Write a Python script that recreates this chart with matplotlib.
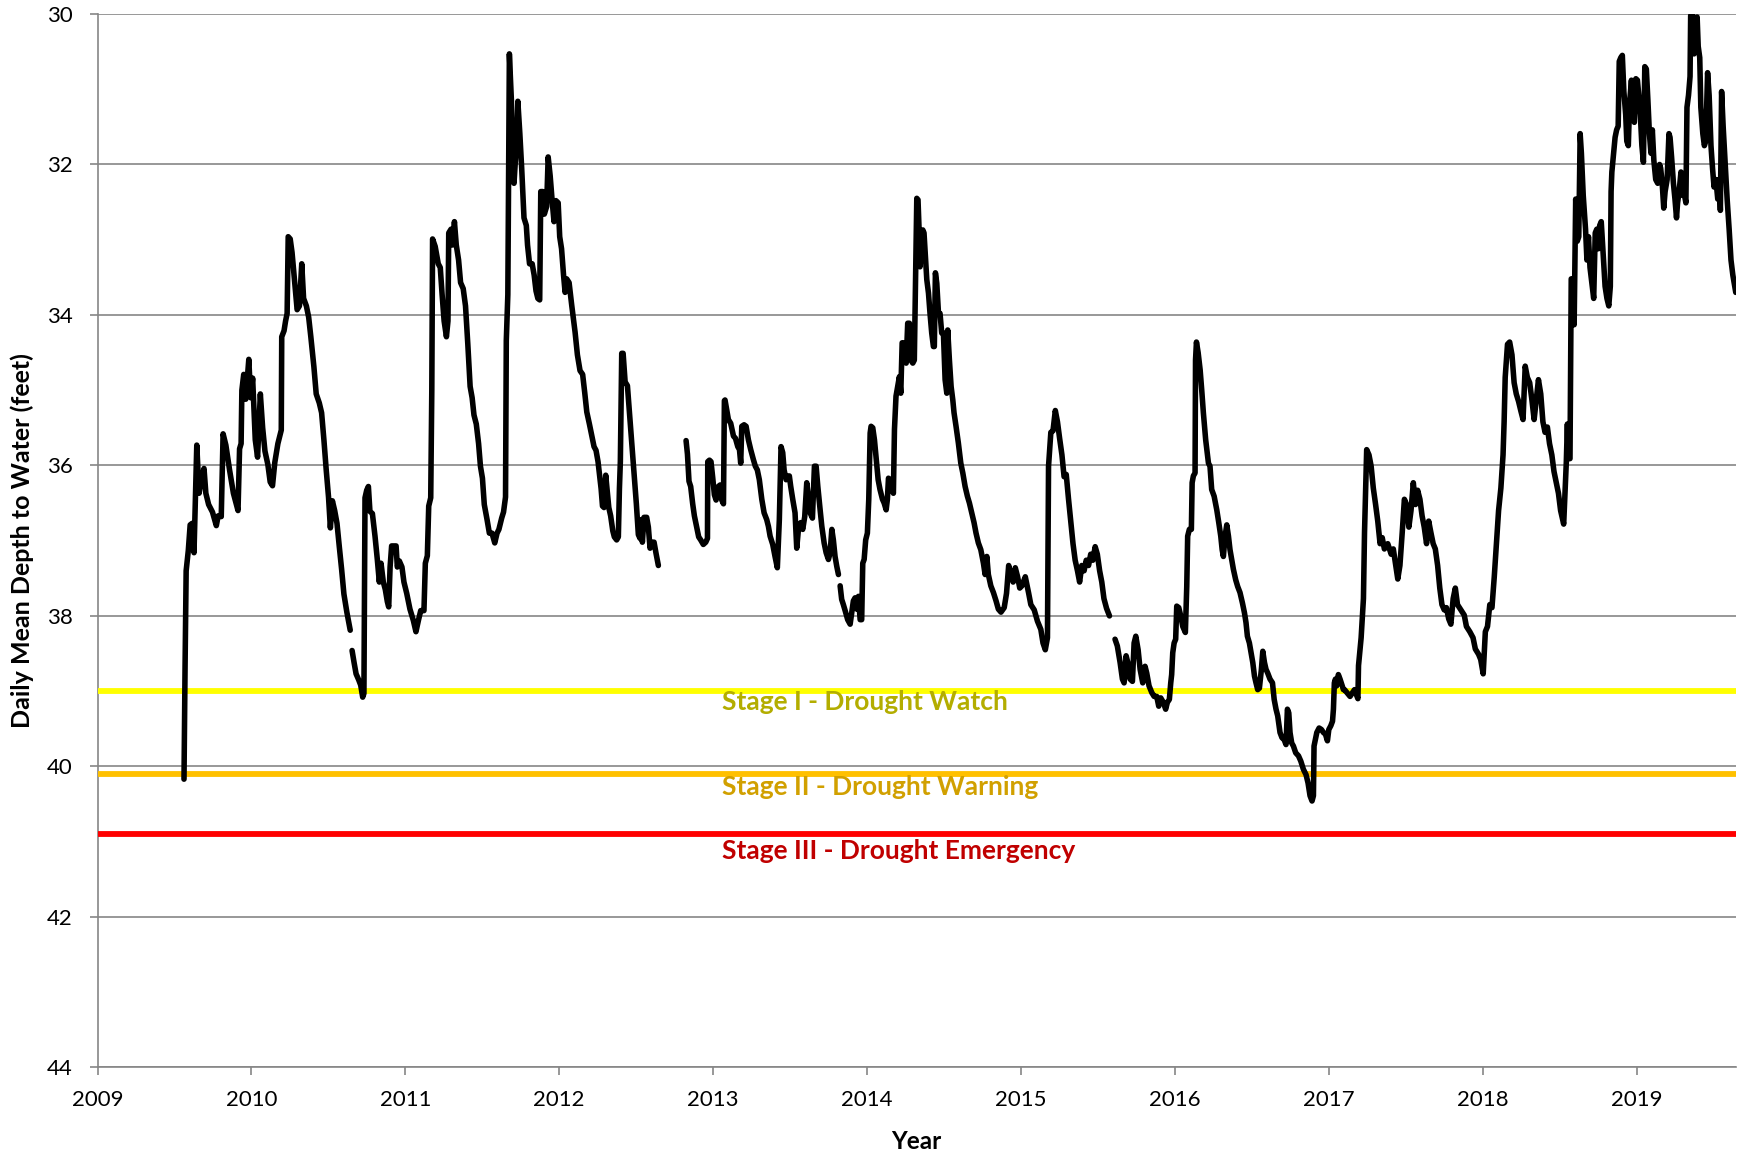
import matplotlib as mpl
import matplotlib.pyplot as plt
mpl.use('Agg')

plt.rcParams['font.family'] = ['Lato', 'DejaVu Sans']

# daily mean depth to water, (decimal year, feet); gaps in the record split the segments
seg_2009 = [(2009.562, 40.17), (2009.569, 38.66), (2009.576, 37.40), (2009.590, 37.13), (2009.602, 36.79),
            (2009.615, 36.77), (2009.627, 37.16), (2009.645, 35.73), (2009.660, 36.37), (2009.677, 36.17),
            (2009.692, 36.04), (2009.704, 36.37), (2009.722, 36.52), (2009.747, 36.62), (2009.772, 36.80),
            (2009.784, 36.67), (2009.804, 36.68), (2009.816, 35.58), (2009.834, 35.73), (2009.858, 36.06),
            (2009.883, 36.37), (2009.913, 36.60), (2009.923, 35.78), (2009.933, 35.71), (2009.938, 35.00),
            (2009.950, 34.79), (2009.963, 35.12), (2009.983, 34.59), (2009.995, 35.10), (2010.008, 34.84),
            (2010.025, 35.66), (2010.040, 35.89), (2010.058, 35.05), (2010.073, 35.50), (2010.088, 35.81),
            (2010.107, 35.99), (2010.122, 36.22), (2010.137, 36.27), (2010.152, 35.96), (2010.172, 35.71),
            (2010.194, 35.53), (2010.197, 34.29), (2010.212, 34.21), (2010.222, 34.08), (2010.232, 33.98),
            (2010.239, 32.96), (2010.252, 32.99), (2010.264, 33.17), (2010.277, 33.47), (2010.297, 33.93),
            (2010.312, 33.88), (2010.327, 33.32), (2010.339, 33.78), (2010.357, 33.88), (2010.372, 34.03),
            (2010.386, 34.29), (2010.406, 34.69), (2010.421, 35.05), (2010.441, 35.17), (2010.456, 35.30),
            (2010.471, 35.66), (2010.486, 36.06), (2010.501, 36.42), (2010.513, 36.83), (2010.526, 36.47),
            (2010.541, 36.60), (2010.556, 36.77), (2010.571, 37.08), (2010.586, 37.38), (2010.601, 37.71),
            (2010.620, 37.95), (2010.642, 38.19)]

seg_2010 = [(2010.654, 38.46), (2010.667, 38.62), (2010.680, 38.77), (2010.697, 38.85), (2010.710, 38.92),
            (2010.723, 39.08), (2010.731, 39.03), (2010.738, 36.43), (2010.749, 36.33), (2010.760, 36.28),
            (2010.770, 36.61), (2010.786, 36.64), (2010.803, 36.94), (2010.818, 37.25), (2010.831, 37.55),
            (2010.842, 37.30), (2010.857, 37.55), (2010.870, 37.65), (2010.883, 37.81), (2010.892, 37.88),
            (2010.901, 37.35), (2010.911, 37.07), (2010.927, 37.07), (2010.940, 37.07), (2010.948, 37.35),
            (2010.961, 37.27), (2010.978, 37.35), (2010.991, 37.55), (2011.009, 37.70), (2011.030, 37.91),
            (2011.052, 38.06), (2011.069, 38.21), (2011.085, 38.06), (2011.100, 37.93), (2011.121, 37.93),
            (2011.130, 37.30), (2011.143, 37.20), (2011.152, 36.54), (2011.165, 36.43), (2011.172, 35.00),
            (2011.177, 32.99), (2011.194, 33.09), (2011.214, 33.32), (2011.227, 33.37), (2011.239, 33.73),
            (2011.252, 34.08), (2011.267, 34.29), (2011.277, 34.08), (2011.282, 32.91), (2011.297, 32.86),
            (2011.306, 33.07), (2011.319, 32.76), (2011.331, 33.07), (2011.346, 33.27), (2011.359, 33.57),
            (2011.376, 33.65), (2011.391, 33.88), (2011.406, 34.39), (2011.421, 34.95), (2011.434, 35.10),
            (2011.446, 35.33), (2011.461, 35.45), (2011.476, 35.71), (2011.488, 36.01), (2011.501, 36.17),
            (2011.513, 36.52), (2011.531, 36.72), (2011.546, 36.90), (2011.563, 36.90), (2011.581, 37.03),
            (2011.596, 36.90), (2011.608, 36.85), (2011.626, 36.70), (2011.638, 36.62), (2011.651, 36.42),
            (2011.656, 34.34), (2011.666, 33.73), (2011.676, 30.53), (2011.689, 31.14), (2011.696, 31.95),
            (2011.706, 32.25), (2011.721, 31.75), (2011.731, 31.16), (2011.744, 31.59), (2011.756, 32.05),
            (2011.771, 32.71), (2011.786, 32.81), (2011.794, 33.07), (2011.807, 33.32), (2011.824, 33.32),
            (2011.837, 33.47), (2011.849, 33.68), (2011.861, 33.78), (2011.873, 33.80), (2011.880, 32.36),
            (2011.893, 32.36), (2011.903, 32.66), (2011.918, 32.56), (2011.928, 31.90), (2011.941, 32.15),
            (2011.955, 32.51), (2011.966, 32.76), (2011.978, 32.48), (2011.993, 32.51), (2012.003, 32.96),
            (2012.015, 33.12), (2012.028, 33.47), (2012.038, 33.70), (2012.048, 33.52), (2012.064, 33.57),
            (2012.081, 33.87), (2012.103, 34.23), (2012.118, 34.53), (2012.135, 34.74), (2012.152, 34.79),
            (2012.166, 35.04), (2012.179, 35.29), (2012.196, 35.45), (2012.211, 35.60), (2012.226, 35.75),
            (2012.239, 35.80), (2012.252, 35.95), (2012.261, 36.11), (2012.272, 36.31), (2012.281, 36.54),
            (2012.291, 36.56), (2012.302, 36.13), (2012.313, 36.36), (2012.322, 36.56), (2012.334, 36.67),
            (2012.348, 36.87), (2012.358, 36.95), (2012.373, 36.99), (2012.384, 36.95), (2012.391, 36.31),
            (2012.397, 35.95), (2012.406, 34.51), (2012.415, 34.51), (2012.428, 34.89), (2012.443, 34.94),
            (2012.456, 35.29), (2012.471, 35.70), (2012.486, 36.11), (2012.501, 36.51), (2012.514, 36.92),
            (2012.525, 36.97), (2012.534, 36.72), (2012.540, 37.02), (2012.551, 36.69), (2012.568, 36.69),
            (2012.579, 36.82), (2012.590, 37.10), (2012.603, 37.02), (2012.616, 37.02), (2012.629, 37.17),
            (2012.644, 37.33)]

seg_2012 = [(2012.824, 35.67), (2012.833, 35.85), (2012.843, 36.21), (2012.854, 36.28), (2012.867, 36.51),
            (2012.878, 36.67), (2012.893, 36.82), (2012.906, 36.95), (2012.919, 36.99), (2012.936, 37.05),
            (2012.952, 37.02), (2012.963, 36.97), (2012.965, 35.95), (2012.976, 35.93), (2012.986, 35.95),
            (2012.997, 36.16), (2013.008, 36.39), (2013.019, 36.46), (2013.034, 36.28), (2013.045, 36.26),
            (2013.056, 36.46), (2013.067, 36.51), (2013.073, 35.14), (2013.077, 35.13), (2013.099, 35.39),
            (2013.114, 35.44), (2013.132, 35.61), (2013.145, 35.64), (2013.160, 35.75), (2013.171, 35.79),
            (2013.179, 35.97), (2013.186, 35.48), (2013.201, 35.46), (2013.214, 35.48), (2013.229, 35.66),
            (2013.244, 35.79), (2013.261, 35.92), (2013.274, 36.01), (2013.287, 36.06), (2013.300, 36.19),
            (2013.316, 36.45), (2013.331, 36.63), (2013.348, 36.72), (2013.359, 36.81), (2013.370, 36.94),
            (2013.387, 37.05), (2013.402, 37.21), (2013.417, 37.36), (2013.430, 36.72), (2013.441, 35.75),
            (2013.452, 35.83), (2013.461, 36.06), (2013.474, 36.19), (2013.484, 36.14), (2013.495, 36.14),
            (2013.504, 36.28), (2013.517, 36.45), (2013.532, 36.63), (2013.543, 37.10), (2013.554, 36.85),
            (2013.569, 36.76), (2013.582, 36.85), (2013.595, 36.68), (2013.608, 36.23), (2013.619, 36.41),
            (2013.630, 36.63), (2013.645, 36.70), (2013.658, 36.01), (2013.669, 36.01), (2013.680, 36.28),
            (2013.695, 36.59), (2013.706, 36.81), (2013.721, 37.03), (2013.734, 37.16), (2013.749, 37.25),
            (2013.760, 37.16), (2013.771, 36.85), (2013.781, 36.99), (2013.792, 37.21), (2013.803, 37.34),
            (2013.814, 37.45)]

seg_2013 = [(2013.825, 37.60), (2013.835, 37.78), (2013.846, 37.85), (2013.859, 37.94), (2013.874, 38.05),
            (2013.890, 38.11), (2013.900, 37.96), (2013.911, 37.80), (2013.922, 37.76), (2013.933, 37.91),
            (2013.944, 37.74), (2013.955, 38.05), (2013.965, 38.05), (2013.972, 37.30), (2013.981, 37.25),
            (2013.991, 36.99), (2014.002, 36.90), (2014.011, 36.45), (2014.020, 35.57), (2014.026, 35.48),
            (2014.037, 35.50), (2014.048, 35.66), (2014.058, 35.88), (2014.072, 36.19), (2014.084, 36.32),
            (2014.100, 36.45), (2014.111, 36.50), (2014.124, 36.59), (2014.132, 36.45), (2014.139, 36.17),
            (2014.150, 36.19), (2014.160, 36.28), (2014.171, 36.37), (2014.178, 35.52), (2014.188, 35.08),
            (2014.199, 34.95), (2014.210, 34.82), (2014.219, 35.04), (2014.228, 34.37), (2014.236, 34.37),
            (2014.245, 34.62), (2014.254, 34.64), (2014.264, 34.11), (2014.275, 34.11), (2014.284, 34.60),
            (2014.297, 34.64), (2014.307, 34.60), (2014.316, 33.36), (2014.323, 32.45), (2014.331, 32.47),
            (2014.338, 32.87), (2014.344, 33.36), (2014.353, 33.09), (2014.362, 32.87), (2014.370, 32.91),
            (2014.379, 33.22), (2014.388, 33.53), (2014.399, 33.71), (2014.409, 33.98), (2014.420, 34.24),
            (2014.431, 34.42), (2014.437, 34.42), (2014.444, 33.44), (2014.453, 33.58), (2014.464, 33.98),
            (2014.474, 33.98), (2014.485, 34.24), (2014.496, 34.24), (2014.507, 34.86), (2014.518, 35.04),
            (2014.524, 34.20), (2014.535, 34.60), (2014.546, 34.95), (2014.557, 35.13), (2014.565, 35.30),
            (2014.578, 35.48), (2014.593, 35.70), (2014.609, 35.97), (2014.622, 36.10), (2014.637, 36.28),
            (2014.652, 36.41), (2014.665, 36.50), (2014.680, 36.63), (2014.695, 36.76), (2014.708, 36.90),
            (2014.723, 37.03), (2014.739, 37.12), (2014.756, 37.30), (2014.767, 37.45), (2014.778, 37.21),
            (2014.788, 37.45), (2014.804, 37.60), (2014.821, 37.69), (2014.838, 37.80), (2014.853, 37.91),
            (2014.870, 37.95), (2014.891, 37.89), (2014.906, 37.70), (2014.920, 37.33), (2014.934, 37.45),
            (2014.949, 37.55), (2014.963, 37.36), (2014.978, 37.48), (2014.992, 37.63), (2015.006, 37.60),
            (2015.028, 37.48), (2015.050, 37.70), (2015.064, 37.85), (2015.086, 37.92), (2015.107, 38.07),
            (2015.129, 38.18), (2015.143, 38.36), (2015.158, 38.45), (2015.172, 38.29), (2015.179, 36.01),
            (2015.194, 35.56), (2015.208, 35.54), (2015.223, 35.27), (2015.237, 35.42), (2015.251, 35.64),
            (2015.266, 35.86), (2015.280, 36.15), (2015.294, 36.12), (2015.309, 36.45), (2015.323, 36.74),
            (2015.338, 37.04), (2015.352, 37.26), (2015.367, 37.40), (2015.381, 37.55), (2015.395, 37.33),
            (2015.410, 37.40), (2015.424, 37.26), (2015.439, 37.33), (2015.453, 37.18), (2015.467, 37.26),
            (2015.482, 37.08), (2015.496, 37.18), (2015.511, 37.40), (2015.525, 37.55), (2015.539, 37.77),
            (2015.556, 37.90), (2015.575, 38.00)]

seg_2015 = [(2015.611, 38.31), (2015.626, 38.40), (2015.644, 38.62), (2015.659, 38.84), (2015.670, 38.89),
            (2015.683, 38.53), (2015.694, 38.62), (2015.709, 38.84), (2015.724, 38.87), (2015.735, 38.36),
            (2015.746, 38.27), (2015.761, 38.45), (2015.774, 38.71), (2015.791, 38.89), (2015.806, 38.67),
            (2015.817, 38.76), (2015.832, 38.93), (2015.850, 39.02), (2015.865, 39.07), (2015.882, 39.07),
            (2015.895, 39.20), (2015.908, 39.09), (2015.925, 39.15), (2015.940, 39.24), (2015.951, 39.15),
            (2015.964, 39.11), (2015.973, 38.89), (2015.979, 38.78), (2015.986, 38.49), (2015.995, 38.36),
            (2016.005, 38.31), (2016.012, 37.87), (2016.025, 37.89), (2016.038, 38.00), (2016.051, 38.14),
            (2016.068, 38.22), (2016.077, 37.61), (2016.083, 36.94), (2016.094, 36.85), (2016.107, 36.85),
            (2016.112, 36.23), (2016.120, 36.14), (2016.131, 36.10), (2016.134, 34.60), (2016.140, 34.36),
            (2016.151, 34.50), (2016.164, 34.73), (2016.174, 34.99), (2016.185, 35.30), (2016.200, 35.66),
            (2016.218, 35.97), (2016.228, 36.01), (2016.239, 36.32), (2016.255, 36.41), (2016.272, 36.59),
            (2016.285, 36.76), (2016.298, 36.94), (2016.307, 37.12), (2016.315, 37.21), (2016.326, 36.94),
            (2016.337, 36.79), (2016.348, 36.94), (2016.358, 37.12), (2016.369, 37.25), (2016.380, 37.38),
            (2016.395, 37.52), (2016.408, 37.61), (2016.423, 37.69), (2016.439, 37.83), (2016.452, 37.96),
            (2016.462, 38.09), (2016.471, 38.27), (2016.484, 38.36), (2016.495, 38.49), (2016.506, 38.62),
            (2016.517, 38.80), (2016.527, 38.89), (2016.538, 38.98), (2016.549, 38.96), (2016.562, 38.71),
            (2016.571, 38.47), (2016.582, 38.62), (2016.592, 38.71), (2016.603, 38.76), (2016.618, 38.84),
            (2016.634, 38.89), (2016.645, 39.11), (2016.657, 39.24), (2016.668, 39.33), (2016.683, 39.55),
            (2016.696, 39.62), (2016.709, 39.64), (2016.722, 39.71), (2016.731, 39.24), (2016.740, 39.29),
            (2016.748, 39.55), (2016.759, 39.69), (2016.770, 39.73), (2016.785, 39.82), (2016.803, 39.86),
            (2016.818, 39.93), (2016.835, 40.04), (2016.852, 40.11), (2016.865, 40.22), (2016.878, 40.39),
            (2016.891, 40.46), (2016.900, 40.39), (2016.904, 39.73), (2016.913, 39.64), (2016.922, 39.55),
            (2016.937, 39.49), (2016.952, 39.51), (2016.965, 39.55), (2016.978, 39.57), (2016.991, 39.66),
            (2017.000, 39.51), (2017.013, 39.46), (2017.024, 39.40), (2017.030, 39.24), (2017.036, 38.89),
            (2017.043, 38.84), (2017.051, 38.93), (2017.062, 38.78), (2017.073, 38.84), (2017.084, 38.91),
            (2017.095, 38.98), (2017.102, 38.98), (2017.138, 39.07), (2017.167, 38.98), (2017.189, 39.10),
            (2017.193, 38.66), (2017.210, 38.29), (2017.225, 37.77), (2017.232, 36.89), (2017.246, 35.79),
            (2017.261, 35.86), (2017.275, 36.01), (2017.289, 36.30), (2017.304, 36.52), (2017.318, 36.74),
            (2017.333, 37.04), (2017.347, 36.96), (2017.361, 37.11), (2017.383, 37.04), (2017.405, 37.18),
            (2017.419, 37.11), (2017.433, 37.30), (2017.448, 37.51), (2017.462, 37.33), (2017.477, 36.89),
            (2017.491, 36.45), (2017.505, 36.52), (2017.520, 36.82), (2017.534, 36.60), (2017.549, 36.23),
            (2017.563, 36.52), (2017.577, 36.33), (2017.592, 36.45), (2017.606, 36.67), (2017.620, 36.82),
            (2017.635, 37.04), (2017.649, 36.74), (2017.663, 36.89), (2017.678, 37.04), (2017.692, 37.11),
            (2017.707, 37.33), (2017.721, 37.63), (2017.735, 37.85), (2017.750, 37.92), (2017.764, 37.89),
            (2017.779, 38.04), (2017.793, 38.11), (2017.808, 37.77), (2017.822, 37.63), (2017.836, 37.85),
            (2017.858, 37.92), (2017.880, 37.99), (2017.894, 38.14), (2017.916, 38.21), (2017.937, 38.29),
            (2017.952, 38.44), (2017.973, 38.51), (2017.987, 38.58), (2018.003, 38.77), (2018.017, 38.21),
            (2018.031, 38.14), (2018.046, 37.85), (2018.060, 37.89), (2018.075, 37.48), (2018.089, 37.04),
            (2018.103, 36.60), (2018.118, 36.30), (2018.132, 35.86), (2018.139, 35.42), (2018.146, 34.83),
            (2018.161, 34.39), (2018.175, 34.36), (2018.190, 34.53), (2018.204, 34.90), (2018.218, 35.05),
            (2018.233, 35.15), (2018.247, 35.27), (2018.262, 35.39), (2018.276, 34.68), (2018.290, 34.83),
            (2018.305, 34.90), (2018.319, 35.12), (2018.334, 35.39), (2018.348, 35.12), (2018.362, 34.86),
            (2018.377, 35.05), (2018.391, 35.42), (2018.405, 35.56), (2018.420, 35.49), (2018.434, 35.71),
            (2018.449, 35.86), (2018.463, 36.08), (2018.478, 36.23), (2018.492, 36.37), (2018.506, 36.60),
            (2018.521, 36.74), (2018.526, 36.78), (2018.543, 35.96), (2018.550, 35.45), (2018.555, 35.91),
            (2018.567, 35.91), (2018.575, 33.52), (2018.585, 33.52), (2018.594, 34.13), (2018.604, 32.46),
            (2018.614, 33.02), (2018.624, 32.96), (2018.633, 31.59), (2018.641, 31.85), (2018.653, 32.41),
            (2018.668, 32.86), (2018.677, 33.27), (2018.687, 32.96), (2018.697, 33.37), (2018.709, 33.57),
            (2018.721, 33.78), (2018.731, 32.91), (2018.741, 32.86), (2018.751, 33.12), (2018.760, 32.81),
            (2018.770, 32.76), (2018.782, 33.17), (2018.795, 33.62), (2018.807, 33.78), (2018.819, 33.88),
            (2018.829, 33.62), (2018.834, 32.36), (2018.839, 32.10), (2018.848, 31.90), (2018.860, 31.64),
            (2018.870, 31.54), (2018.880, 31.49), (2018.887, 30.63), (2018.897, 30.58), (2018.907, 30.55),
            (2018.917, 31.03), (2018.929, 31.34), (2018.936, 31.69), (2018.946, 31.75), (2018.954, 31.19),
            (2018.966, 30.88), (2018.976, 31.34), (2018.985, 31.44), (2018.995, 30.86), (2019.005, 30.88),
            (2019.014, 31.08), (2019.024, 31.34), (2019.034, 31.75), (2019.044, 31.97), (2019.053, 30.70),
            (2019.063, 30.73), (2019.073, 31.14), (2019.083, 31.59), (2019.093, 31.85), (2019.102, 31.54),
            (2019.112, 31.95), (2019.124, 32.20), (2019.137, 32.25), (2019.149, 32.00), (2019.156, 32.05),
            (2019.166, 32.25), (2019.176, 32.58), (2019.185, 32.36), (2019.198, 32.20), (2019.210, 31.59),
            (2019.217, 31.64), (2019.227, 31.90), (2019.239, 32.25), (2019.249, 32.46), (2019.259, 32.71),
            (2019.266, 32.51), (2019.276, 32.36), (2019.288, 32.10), (2019.298, 32.41), (2019.307, 32.36),
            (2019.320, 32.51), (2019.327, 31.24), (2019.337, 31.08), (2019.347, 30.83), (2019.351, 30.02),
            (2019.364, 30.02), (2019.373, 30.53), (2019.381, 30.12), (2019.393, 30.04), (2019.400, 30.43),
            (2019.410, 30.58), (2019.417, 31.24), (2019.430, 31.59), (2019.440, 31.75), (2019.449, 31.69),
            (2019.461, 30.78), (2019.471, 31.08), (2019.483, 31.75), (2019.493, 32.05), (2019.503, 32.30),
            (2019.515, 32.20), (2019.527, 32.46), (2019.537, 32.20), (2019.544, 32.61), (2019.552, 31.03),
            (2019.562, 31.49), (2019.576, 32.00), (2019.588, 32.46), (2019.601, 32.86), (2019.613, 33.27),
            (2019.625, 33.47), (2019.637, 33.62), (2019.644, 33.70)]

segments = [seg_2009, seg_2010, seg_2012, seg_2013, seg_2015]

# drought trigger levels
stage_levels = [39.0, 40.1, 40.9]
stage_names = ['Stage I - Drought Watch', 'Stage II - Drought Warning', 'Stage III - Drought Emergency']
stage_line_colors = ['#FFFF00', '#FFC000', '#FF0000']
stage_text_colors = ['#B3AD00', '#D1A000', '#C00000']
stage_text_y = [39.15, 40.28, 41.12]

year_ticks = list(range(2009, 2020))
depth_ticks = list(range(30, 45, 2))

fig = plt.figure(figsize=(17.38, 11.57), dpi=100)
ax = fig.add_axes([0.0561, 0.0775, 0.9427, 0.9104])

for seg in segments:
    x, y = zip(*seg)
    ax.plot(x, y, color='black', lw=4.0, solid_joinstyle='round', solid_capstyle='round', zorder=4)

for level, name, lc, tc, ty in zip(stage_levels, stage_names, stage_line_colors, stage_text_colors, stage_text_y):
    ax.axhline(level, color=lc, lw=4.2, zorder=3)
    ax.text(2013.056, ty, name, color=tc, fontsize=19, fontweight='bold', va='center', ha='left', zorder=5)

ax.set_xlim(2009, 2019.645)
ax.set_ylim(44, 30)
ax.set_xticks(year_ticks)
ax.set_yticks(depth_ticks)
ax.grid(axis='y', color='#868686', lw=1.2)
ax.set_axisbelow(True)

for side in ['top', 'right']:
    ax.spines[side].set_visible(False)
for side in ['left', 'bottom']:
    ax.spines[side].set_color('#868686')
    ax.spines[side].set_linewidth(1.2)

ax.tick_params(axis='both', direction='out', length=6, width=1.2, color='#868686', labelsize=16)
ax.tick_params(axis='y', pad=12)
ax.tick_params(axis='x', pad=10)

fig.text(22 / 1738, 0.533, 'Daily Mean Depth to Water (feet)', rotation=90, ha='center', va='center',
         fontsize=18, fontweight='bold')
fig.text(0.527, 0.0132, 'Year', ha='center', va='center', fontsize=17.5, fontweight='bold')

plt.savefig('out.png', dpi=100)
